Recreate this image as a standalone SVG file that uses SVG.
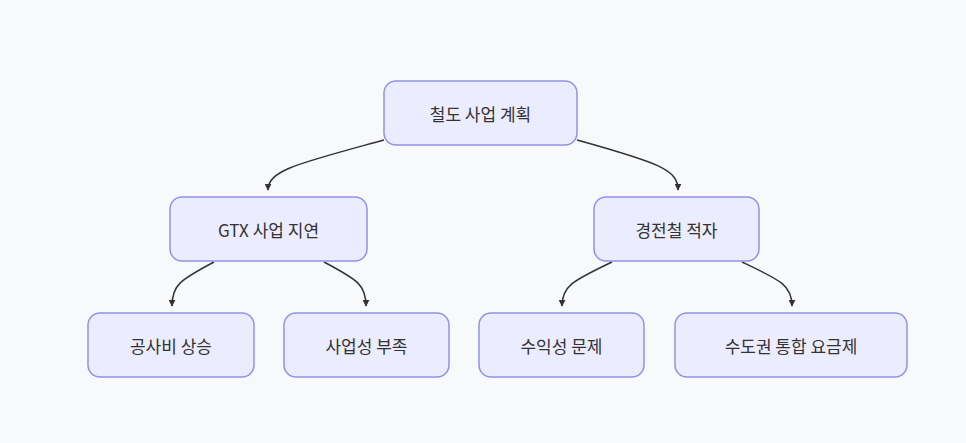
<svg xmlns="http://www.w3.org/2000/svg" width="966" height="443" viewBox="0 0 966 443">
<style>
.n rect{fill:#ececff;stroke:#9191e6;stroke-width:1.5}
.n text{font-family:"Noto Sans CJK KR","Noto Sans",sans-serif;font-size:17px;fill:#333;text-anchor:middle;dominant-baseline:central}
.e path{fill:none;stroke:#333;stroke-width:1.5;marker-end:url(#a)}
</style>
<defs><marker id="a" viewBox="0 0 10 10" refX="9" refY="5" markerWidth="7" markerHeight="7" orient="auto" markerUnits="userSpaceOnUse"><path d="M0,0L10,5L0,10z" fill="#333"/></marker></defs>
<rect width="966" height="443" fill="#f8f9fb"/>
<g class="e">
<path d="M384,140 C300,163 268,170 268,190"/>
<path d="M577,140 C660,163 678,170 678,190"/>
<path d="M214,262 C180,280 172,285 172,306"/>
<path d="M324,262 C358,280 366,285 366,306"/>
<path d="M612,262 C575,280 562,285 562,306"/>
<path d="M742,262 C780,280 792,285 792,306"/>
</g>
<g class="n" id="root"><rect x="384" y="81" width="193" height="64" rx="12"/><text x="480.5" y="113">철도 사업 계획</text></g>
<g class="n" id="gtx"><rect x="170" y="197" width="197" height="64" rx="12"/><text x="268.5" y="229">GTX 사업 지연</text></g>
<g class="n" id="lrt"><rect x="594" y="197" width="165" height="64" rx="12"/><text x="676.5" y="229">경전철 적자</text></g>
<g class="n" id="cost"><rect x="88" y="313" width="166" height="64" rx="12"/><text x="171" y="345">공사비 상승</text></g>
<g class="n" id="biz"><rect x="284" y="313" width="165" height="64" rx="12"/><text x="366.5" y="345">사업성 부족</text></g>
<g class="n" id="rev"><rect x="479" y="313" width="165" height="64" rx="12"/><text x="561.5" y="345">수익성 문제</text></g>
<g class="n" id="fare"><rect x="675" y="313" width="232" height="64" rx="12"/><text x="791" y="345">수도권 통합 요금제</text></g>
</svg>
